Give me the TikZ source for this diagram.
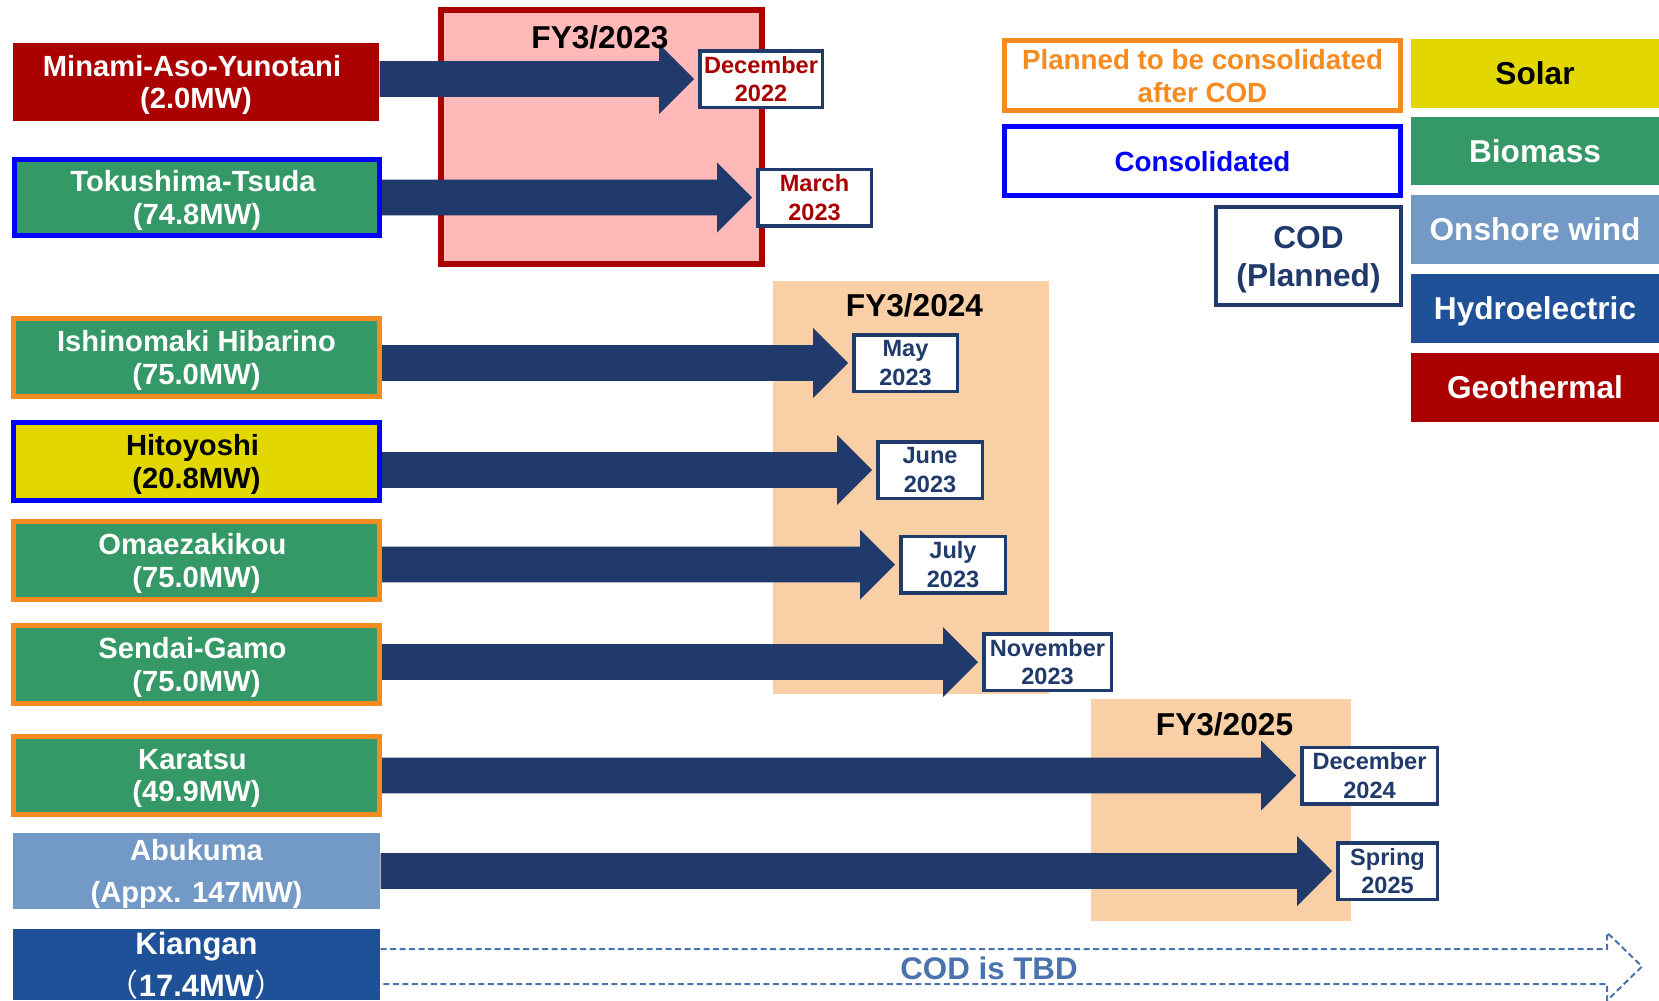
\documentclass[tikz,border=0pt]{standalone}
\usepackage{fontspec}
\setmainfont{Liberation Sans}
\newfontfamily\cjkfont{Noto Sans CJK JP}
\usetikzlibrary{calc}
\definecolor{geored}{HTML}{AA0000}
\definecolor{bio}{HTML}{349966}
\definecolor{solar}{HTML}{E2D700}
\definecolor{wind}{HTML}{7399C6}
\definecolor{hydro}{HTML}{1F5199}
\definecolor{navy}{HTML}{203A6C}
\definecolor{planorange}{HTML}{F68B1F}
\definecolor{consblue}{HTML}{0000FF}
\definecolor{pinkbg}{HTML}{FFB9B9}
\definecolor{peach}{HTML}{F9CFA5}
\definecolor{tbdblue}{HTML}{4A72AC}
\newcommand\tsp{\kern0.8mm}

\begin{document}
\begin{tikzpicture}[x=0.1mm,y=-0.1mm,
    proj/.style={minimum width=36.6mm,minimum height=7.8mm,inner sep=0pt,align=center,text=white,
      text depth=0pt,font=\fontsize{8.3}{9.3}\selectfont\bfseries},
    plan/.style={draw=planorange,line width=0.5mm},
    cons/.style={draw=consblue,line width=0.5mm},
    datebox/.style={draw=navy,line width=0.35mm,fill=white,inner sep=0pt,align=center,text=navy,
      text depth=0pt,minimum height=5.65mm,font=\fontsize{6.7}{8.2}\selectfont\bfseries},
    fylabel/.style={anchor=base,font=\fontsize{9}{10}\selectfont\bfseries},
    kind/.style={minimum width=24.8mm,minimum height=6.85mm,inner sep=0pt,text=white,
      text height=6.45pt,text depth=0pt,font=\fontsize{9}{10}\selectfont\bfseries},
    status/.style={fill=white,line width=0.5mm,inner sep=0pt,align=center,text depth=0pt,
      font=\fontsize{7.9}{9.4}\selectfont\bfseries}]
  \clip (0,0) rectangle (1659,1000);
  \fill[pinkbg,draw=geored,line width=0.6mm] (441,10) rectangle (762,264);
  \fill[peach] (773,281) rectangle (1049,694);
  \fill[peach] (1091,699) rectangle (1351,921);

  \node[proj,fill=geored] (minami) at (196,82) {Minami-Aso-Yunotani\tsp\\(2.0MW)};
  \node[proj,cons,fill=bio,minimum width=36.5mm,minimum height=7.6mm] (toku) at (197,197.5) {Tokushima-Tsuda\tsp\\(74.8MW)};
  \node[proj,plan,fill=bio] (ishi) at (196.5,357.5) {Ishinomaki Hibarino\\(75.0MW)};
  \node[proj,cons,fill=solar,text=black] (hito) at (196.5,461.5) {Hitoyoshi\tsp\\(20.8MW)};
  \node[proj,plan,fill=bio] (omae) at (196.5,560.5) {Omaezakikou\tsp\\(75.0MW)};
  \node[proj,plan,fill=bio] (sendai) at (196.5,664.5) {Sendai-Gamo\tsp\\(75.0MW)};
  \node[proj,plan,fill=bio] (kara) at (196.5,775.5) {Karatsu\tsp\\(49.9MW)};
  \node[proj,fill=wind,minimum width=36.7mm,minimum height=7.6mm,font=\fontsize{8.3}{12}\selectfont\bfseries] (abu) at (196.5,871) {Abukuma\\(Appx. 147MW)};
  \node[proj,fill=hydro,minimum width=36.7mm,minimum height=7.1mm,font=\fontsize{8.8}{12}\selectfont\bfseries] (kian) at (196.5,964.5) {Kiangan\\{\cjkfont\mdseries （}17.4MW{\cjkfont\mdseries ）}};

  \node[datebox,minimum width=12.25mm,text=geored] (dec22) at (761,79) {December\\2022};
  \node[datebox,minimum width=11.35mm,text=geored] (mar23) at (814.5,197.5) {March\\2023};
  \node[datebox,minimum width=10.35mm] (may23) at (905.5,363) {May\\2023};
  \node[datebox,minimum width=10.45mm] (jun23) at (930,470) {June\\2023};
  \node[datebox,minimum width=10.45mm] (jul23) at (953,564.5) {July\\2023};
  \node[datebox,minimum width=12.75mm] (nov23) at (1047.5,662) {November\\2023};
  \node[datebox,minimum width=13.55mm] (dec24) at (1369.5,775.5) {December\\2024};
  \node[datebox,minimum width=9.95mm] (spr25) at (1387.5,871) {Spring\\2025};

  \foreach \a/\b in {minami/dec22,toku/mar23,ishi/may23,hito/jun23,omae/jul23,sendai/nov23,kara/dec24,abu/spr25}
    \fill[navy] let \p1=(\a.east), \p2=(\b.west) in
      (\x1,\y2+1.78mm) -- (\x2-3.9mm,\y2+1.78mm) -- (\x2-3.9mm,\y2+3.5mm) -- (\x2-0.4mm,\y2)
      -- (\x2-3.9mm,\y2-3.5mm) -- (\x2-3.9mm,\y2-1.78mm) -- (\x1,\y2-1.78mm) -- cycle;

  \coordinate (tbd) at (1642,966.5);
  \draw[tbdblue,line width=0.2mm,dash pattern=on 0.6mm off 0.35mm] let \p1=(kian.east), \p2=(tbd) in
    (\x1,\y2+1.75mm) -- (\x2-3.5mm,\y2+1.75mm) -- (\x2-3.5mm,\y2+3.4mm) -- (tbd)
    -- (\x2-3.5mm,\y2-3.4mm) -- (\x2-3.5mm,\y2-1.75mm) -- (\x1,\y2-1.75mm);
  \node[text=tbdblue,font=\fontsize{8.9}{10}\selectfont\bfseries] (tbdtext) at (989,968) {COD is TBD};

  \node[fylabel] (fy23) at (600,48) {FY3/2023};
  \node[fylabel] (fy24) at (914.5,316) {FY3/2024};
  \node[fylabel] (fy25) at (1224.5,735) {FY3/2025};

  \node[status,draw=planorange,text=planorange,minimum width=39.6mm,minimum height=7mm] (planned) at (1202.5,75.5) {Planned to be consolidated\\after COD};
  \node[status,draw=consblue,text=consblue,minimum width=39.6mm,minimum height=6.9mm] (consol) at (1202.5,161) {Consolidated};
  \node[status,draw=navy,text=navy,line width=0.45mm,minimum width=18.5mm,minimum height=9.8mm,font=\fontsize{9}{10.8}\selectfont\bfseries] (cod) at (1308.5,256) {COD\\(Planned)};

  \node[kind,fill=solar,text=black] (solarkey) at (1535,73.5) {Solar};
  \node[kind,fill=bio] (biokey) at (1535,151) {Biomass};
  \node[kind,fill=wind] (windkey) at (1535,229.5) {Onshore wind};
  \node[kind,fill=hydro] (hydrokey) at (1535,308.5) {Hydroelectric};
  \node[kind,fill=geored] (geokey) at (1535,387.5) {Geothermal};
\end{tikzpicture}
\end{document}
